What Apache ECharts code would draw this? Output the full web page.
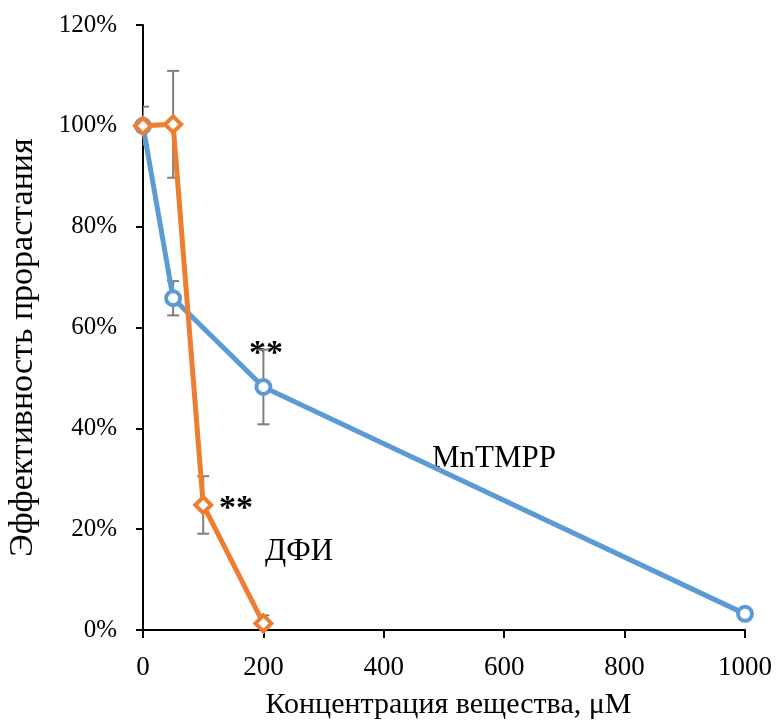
<!DOCTYPE html>
<html>
<head>
<meta charset="utf-8">
<script src="https://cdn.jsdelivr.net/npm/echarts@6/dist/echarts.min.js"></script>
<style>html,body{margin:0;padding:0;background:#fff}#c{width:776px;height:720px}</style>
</head>
<body>
<div id="c"></div>
<script>
// Data
var mnX = [0, 50, 200, 1000];
var mnY = [100, 65.8, 48.2, 3.2];
var mnErr = [3.8, 3.4, 7.4, 0];
var dfX = [0, 50, 100, 200];
var dfY = [100, 100.3, 24.8, 1.3];
var dfErr = [0, 10.6, 5.7, 1.6];
var xTicks = [0, 200, 400, 600, 800, 1000];
var yTicks = [0, 20, 40, 60, 80, 100, 120];

var FONT = '"Liberation Serif", "Times New Roman", serif';
var BLUE = '#5B9BD5', ORANGE = '#ED7D31';

function pts(xs, ys) { return xs.map(function (x, i) { return [x, ys[i]]; }); }
function errData(xs, ys, es) { return xs.map(function (x, i) { return [x, ys[i] - es[i], ys[i] + es[i]]; }); }

function errRender(params, api) {
  var x = api.value(0), lo = api.value(1), hi = api.value(2);
  if (hi === lo) return null;
  var pHi = api.coord([x, hi]), pLo = api.coord([x, lo]);
  var w = 6;
  var st = { stroke: '#7F7F7F', lineWidth: 2 };
  return {
    type: 'group',
    children: [
      { type: 'line', shape: { x1: pHi[0], y1: pHi[1], x2: pLo[0], y2: pLo[1] }, style: st },
      { type: 'line', shape: { x1: pHi[0] - w, y1: pHi[1], x2: pHi[0] + w, y2: pHi[1] }, style: st },
      { type: 'line', shape: { x1: pLo[0] - w, y1: pLo[1], x2: pLo[0] + w, y2: pLo[1] }, style: st }
    ]
  };
}

var chart = echarts.init(document.getElementById('c'), null, { renderer: 'canvas' });
chart.setOption({
  animation: false,
  backgroundColor: '#fff',
  grid: { left: 143, right: 31, top: 25, bottom: 90, containLabel: false, outerBoundsMode: 'none' },
  xAxis: {
    type: 'value', min: 0, max: 1000, interval: 200,
    name: 'Концентрация вещества, μM', nameLocation: 'middle', nameGap: 60,
    nameTextStyle: { fontFamily: FONT, fontSize: 30, color: '#000', padding: [0, 0, 0, 9] },
    axisLine: { lineStyle: { color: '#000', width: 2 } },
    axisTick: { show: true, length: 8, lineStyle: { color: '#000', width: 2 } },
    axisLabel: { fontFamily: FONT, fontSize: 27, color: '#000', margin: 24, formatter: function (v) { return String(v); } },
    splitLine: { show: false }
  },
  yAxis: {
    type: 'value', min: 0, max: 120, interval: 20,
    name: 'Эффективность прорастания', nameLocation: 'middle', nameGap: 103, nameRotate: 90,
    nameTextStyle: { fontFamily: FONT, fontSize: 34, color: '#000', padding: [0, 40, 0, 0] },
    axisLine: { show: true, lineStyle: { color: '#000', width: 2 } },
    axisTick: { show: true, length: 7, lineStyle: { color: '#000', width: 2 } },
    axisLabel: { fontFamily: FONT, fontSize: 25, color: '#000', margin: 26, formatter: function (v) { return v + '%'; } },
    splitLine: { show: false }
  },
  series: [
    { type: 'custom', name: 'errMn', data: errData(mnX, mnY, mnErr), renderItem: errRender, clip: true, z: 1, encode: { x: 0, y: [1, 2] } },
    { type: 'custom', name: 'errDf', data: errData(dfX, dfY, dfErr), renderItem: errRender, clip: true, z: 1, encode: { x: 0, y: [1, 2] } },
    {
      type: 'line', name: 'MnTMPP', data: pts(mnX, mnY), z: 3,
      lineStyle: { color: BLUE, width: 5 }, symbol: 'circle', symbolSize: 14, showAllSymbol: true,
      itemStyle: { color: '#fff', borderColor: BLUE, borderWidth: 4 }
    },
    {
      type: 'line', name: 'ДФИ', data: pts(dfX, dfY), z: 4,
      lineStyle: { color: ORANGE, width: 5 }, symbol: 'diamond', symbolSize: 16, showAllSymbol: true,
      itemStyle: { color: '#fff', borderColor: ORANGE, borderWidth: 4 }
    }
  ],
  graphic: [
    { type: 'text', left: 432, top: 443, style: { text: 'MnTMPP', font: '31px ' + FONT, fill: '#000' } },
    { type: 'text', left: 265, top: 536, style: { text: 'ДФИ', font: '31px ' + FONT, fill: '#000' } },
    { type: 'text', left: 249, top: 337, style: { text: '**', font: 'bold 34px ' + FONT, fill: '#000' } },
    { type: 'text', left: 219, top: 492, style: { text: '**', font: 'bold 34px ' + FONT, fill: '#000' } }
  ]
});
</script>
</body>
</html>
